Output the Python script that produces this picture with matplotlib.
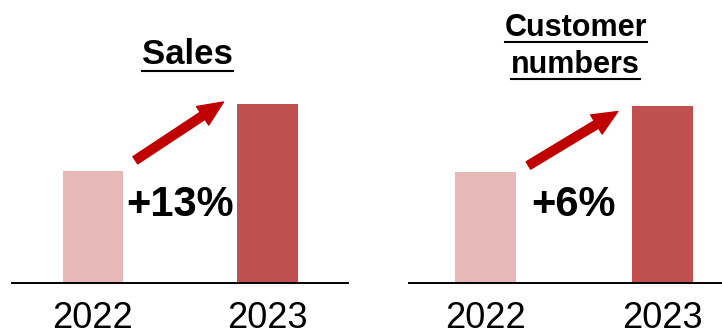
import matplotlib
matplotlib.use('Agg')
import matplotlib.pyplot as plt
from matplotlib.lines import Line2D
from matplotlib.patches import FancyArrowPatch

plt.rcParams['font.family'] = ['Liberation Sans', 'DejaVu Sans']

years = ['2022', '2023']
sales = [100, 113]          # indexed, 2022 = 100
customers = [100, 106]      # indexed, 2022 = 100
sales_growth = '+13%'
customer_growth = '+6%'
titles = [['Sales'], ['Customer', 'numbers']]

light = '#E6B8B7'
dark = '#C0504D'
arrow_red = '#C00000'
bw = 0.345

fig = plt.figure(figsize=(7.22, 3.29), dpi=100)
base = 0.1407
ax1 = fig.add_axes([12/722, base, 336/722, 1 - base])
ax2 = fig.add_axes([409/722, base, 313/722, 1 - base])


def panel(ax, vals, growth, xlim, ylim, tail_lift, tip_lift, tsize, title_y, title_x):
    ax.bar([0, 1], vals, width=bw, color=[light, dark], bottom=0)
    ax.set_xlim(*xlim)
    ax.set_ylim(*ylim)
    for s in ['top', 'left', 'right']:
        ax.spines[s].set_visible(False)
    ax.spines['bottom'].set_linewidth(1.4)
    ax.set_yticks([])
    ax.set_xticks([0, 1])
    ax.set_xticklabels(years, fontsize=26)
    ax.tick_params(axis='x', length=0, pad=13.5)
    ax.patch.set_alpha(0)

    # growth arrow from the 2022 bar up to the 2023 bar
    tail = (bw/2 + 0.07, vals[0] + tail_lift)
    tip = (1 - bw/2 - 0.08, vals[1] + tip_lift)
    arr = FancyArrowPatch(tail, tip, arrowstyle='simple,head_length=18,head_width=16,tail_width=6.2',
                          mutation_scale=1, color=arrow_red, shrinkA=0, shrinkB=0)
    ax.add_patch(arr)

    ax.text(0.5, 0.275, growth, transform=ax.get_xaxis_transform(), ha='center', va='center',
            fontsize=30, fontweight='bold')

    tx = []
    for line, y in zip(titles[ax is ax2], title_y):
        t = ax.text(title_x, y, line, transform=ax.get_xaxis_transform(), ha='center',
                    va='baseline', fontsize=tsize, fontweight='bold')
        tx.append(t)
    return tx


t1 = panel(ax1, sales, sales_growth, (-0.464, 1.461), (78.33, 133.2), 2.1, 0.4, 25, [0.775], 0.54)
t2 = panel(ax2, customers, customer_growth, (-0.432, 1.336), (89.94, 115.64), 0.6, -0.5, 22,
           [0.872, 0.742], 0.51)

# underline each title line
fig.canvas.draw()
r = fig.canvas.get_renderer()
for t in t1 + t2:
    bb = t.get_window_extent(r)
    _, y0 = t.get_transform().transform(t.get_position())
    yl = y0 - 0.2 * t.get_fontsize() * 100 / 72
    fig.add_artist(Line2D([bb.x0 / 722, bb.x1 / 722], [yl / 329, yl / 329],
                          color='black', lw=1.5))

fig.savefig('out.png', dpi=100)
